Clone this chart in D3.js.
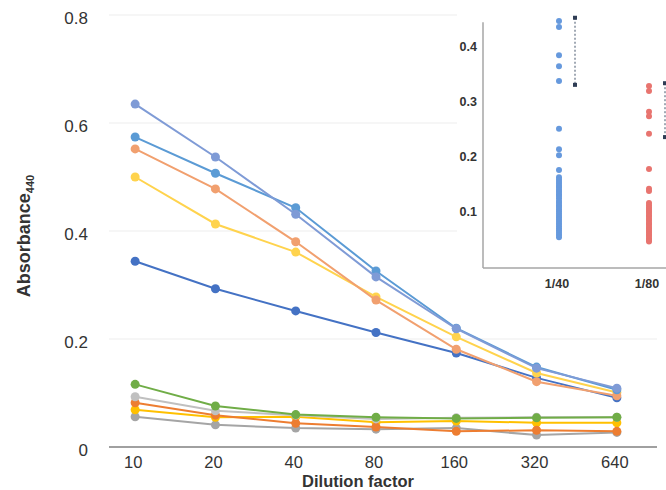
<!DOCTYPE html>
<html><head><meta charset="utf-8">
<script src="https://cdn.jsdelivr.net/npm/d3@7"></script>
<style>body{margin:0;background:#fff}svg{display:block}</style>
</head><body><svg id="c" width="666" height="490"></svg>
<script>
// ---- data ----
const dilutions = ["10","20","40","80","160","320","640"];
const yTicks = [0, 0.2, 0.4, 0.6, 0.8];
const serLavender = [0.635, 0.537, 0.431, 0.315, 0.219, 0.146, 0.109];
const serBlue     = [0.574, 0.507, 0.443, 0.326, 0.220, 0.148, 0.106];
const serSalmon   = [0.552, 0.478, 0.380, 0.272, 0.181, 0.121, 0.095];
const serYellow   = [0.500, 0.413, 0.361, 0.278, 0.204, 0.137, 0.101];
const serNavy     = [0.344, 0.293, 0.252, 0.212, 0.174, 0.128, 0.091];
const serGreen    = [0.116, 0.076, 0.060, 0.055, 0.053, 0.054, 0.055];
const serLtGray   = [0.093, 0.067, 0.059, 0.052, 0.054, 0.055, 0.055];
const serOrange   = [0.082, 0.059, 0.044, 0.037, 0.029, 0.031, 0.029];
const serGold     = [0.069, 0.055, 0.056, 0.046, 0.048, 0.045, 0.045];
const serDkGray   = [0.056, 0.041, 0.035, 0.033, 0.035, 0.022, 0.027];

const insetCats = ["1/40", "1/80"];
const insetTicks = [0.1, 0.2, 0.3, 0.4];
const inset40 = [0.449, 0.438, 0.387, 0.367, 0.340, 0.253, 0.216, 0.205, 0.178,
  0.165, 0.161, 0.157, 0.153, 0.149, 0.146, 0.142, 0.138, 0.134, 0.131, 0.127, 0.122,
  0.118, 0.114, 0.111, 0.107, 0.103, 0.099, 0.095, 0.092, 0.088, 0.084, 0.080,
  0.076, 0.072, 0.068, 0.064, 0.060, 0.056];
const inset80 = [0.331, 0.322, 0.284, 0.276, 0.244, 0.180, 0.144, 0.140,
  0.118, 0.114, 0.110, 0.107, 0.103, 0.100, 0.096, 0.093, 0.089, 0.086, 0.082,
  0.079, 0.075, 0.072, 0.068, 0.065, 0.061, 0.058, 0.054, 0.051, 0.048];
const insetRangeTop = [0.455, 0.336];
const insetRangeBottom = [0.333, 0.238];

// ---- styles ----
const series = [
  {v: serDkGray, c: "#a5a5a5"},
  {v: serGold, c: "#ffc000"},
  {v: serOrange, c: "#ed7d31"},
  {v: serLtGray, c: "#c0c0c0"},
  {v: serGreen, c: "#70ad47"},
  {v: serNavy, c: "#4472c4"},
  {v: serYellow, c: "#ffd34d"},
  {v: serSalmon, c: "#f1a06f"},
  {v: serBlue, c: "#5b9bd5"},
  {v: serLavender, c: "#7f9bd6"}
];

const svg = d3.select("#c");
const font = "'Liberation Sans', Arial, sans-serif";

const x = d3.scalePoint().domain(dilutions).range([95, 657]).padding(0.5);
const y = d3.scaleLinear().domain([0, 0.8]).range([447, 15]);

// gridlines
svg.append("g").selectAll("line").data(yTicks.filter(d => d > 0)).join("line")
  .attr("x1", 109).attr("x2", 657)
  .attr("y1", d => y(d)).attr("y2", d => y(d))
  .attr("stroke", "#ededed").attr("stroke-width", 1);

// y tick labels
svg.append("g").selectAll("text").data(yTicks).join("text")
  .attr("x", 88).attr("y", d => y(d) + 9)
  .attr("text-anchor", "end")
  .attr("font-family", font).attr("font-size", 17).attr("fill", "#333")
  .text(d => d === 0 ? "0" : d3.format(".1f")(d));

// x axis line
svg.append("line").attr("x1", 109).attr("x2", 657).attr("y1", y(0)).attr("y2", y(0))
  .attr("stroke", "#a0a0a0").attr("stroke-width", 2);

// x tick labels
svg.append("g").selectAll("text").data(dilutions).join("text")
  .attr("x", d => x(d) - 2).attr("y", 467.5)
  .attr("text-anchor", "middle")
  .attr("font-family", font).attr("font-size", 16.5).attr("fill", "#333")
  .text(d => d);

// axis titles
svg.append("text").attr("x", 358).attr("y", 486.5).attr("text-anchor", "middle")
  .attr("font-family", font).attr("font-size", 16.5).attr("font-weight", "bold").attr("fill", "#333")
  .text("Dilution factor");
const yt = svg.append("text").attr("transform", "translate(30,236) rotate(-90)")
  .attr("text-anchor", "middle")
  .attr("font-family", font).attr("font-size", 18).attr("font-weight", "bold").attr("fill", "#333");
yt.append("tspan").text("Absorbance");
yt.append("tspan").attr("font-size", 11).attr("dy", 4).text("440");

// lines and markers
const line = d3.line().x((d, i) => x(dilutions[i])).y(d => y(d));
const g = svg.append("g");
series.forEach(s => {
  g.append("path").attr("d", line(s.v)).attr("fill", "none")
    .attr("stroke", s.c).attr("stroke-width", 2);
  g.selectAll(null).data(s.v).join("circle")
    .attr("cx", (d, i) => x(dilutions[i])).attr("cy", d => y(d))
    .attr("r", 4.5).attr("fill", s.c);
});

// ---- inset ----
const ins = svg.append("g");
ins.append("rect").attr("x", 457).attr("y", 0).attr("width", 209).attr("height", 292).attr("fill", "#fff");
const yi = d3.scaleLinear().domain([0, 0.45]).range([268, 20.5]);
const xi = d3.scalePoint().domain(insetCats).range([514, 694]).padding(0.5);

ins.append("line").attr("x1", 483).attr("x2", 483).attr("y1", yi(0.447)).attr("y2", yi(0))
  .attr("stroke", "#a6a6a6").attr("stroke-width", 1.5);
ins.append("line").attr("x1", 483).attr("x2", 666).attr("y1", yi(0)).attr("y2", yi(0))
  .attr("stroke", "#a6a6a6").attr("stroke-width", 1.5);

ins.selectAll("text.yt").data(insetTicks).join("text").attr("class", "yt")
  .attr("x", 477).attr("y", d => yi(d) + 2.5)
  .attr("text-anchor", "end").attr("font-family", font).attr("font-size", 12.5)
  .attr("font-weight", "bold").attr("fill", "#333")
  .text(d => d3.format(".1f")(d));
ins.selectAll("text.xt").data(insetCats).join("text").attr("class", "xt")
  .attr("x", d => xi(d) - 2).attr("y", 288)
  .attr("text-anchor", "middle").attr("font-family", font).attr("font-size", 12.5)
  .attr("font-weight", "bold").attr("fill", "#333")
  .text(d => d);

const insetSets = [{v: inset40, c: "#6699dd"}, {v: inset80, c: "#e8746f"}];
insetSets.forEach((s, k) => {
  ins.selectAll(null).data(s.v).join("circle")
    .attr("cx", xi(insetCats[k])).attr("cy", d => yi(d))
    .attr("r", 3).attr("fill", s.c);
});
insetCats.forEach((cName, k) => {
  const xx = xi(cName) + 16;
  ins.append("line").attr("x1", xx).attr("x2", xx)
    .attr("y1", yi(insetRangeTop[k])).attr("y2", yi(insetRangeBottom[k]))
    .attr("stroke", "#44546a").attr("stroke-width", 1).attr("stroke-dasharray", "2,2");
  [insetRangeTop[k], insetRangeBottom[k]].forEach(v => {
    ins.append("rect").attr("x", xx - 2).attr("y", yi(v) - 2).attr("width", 4).attr("height", 4)
      .attr("fill", "#2f3d55");
  });
});
</script></body></html>
